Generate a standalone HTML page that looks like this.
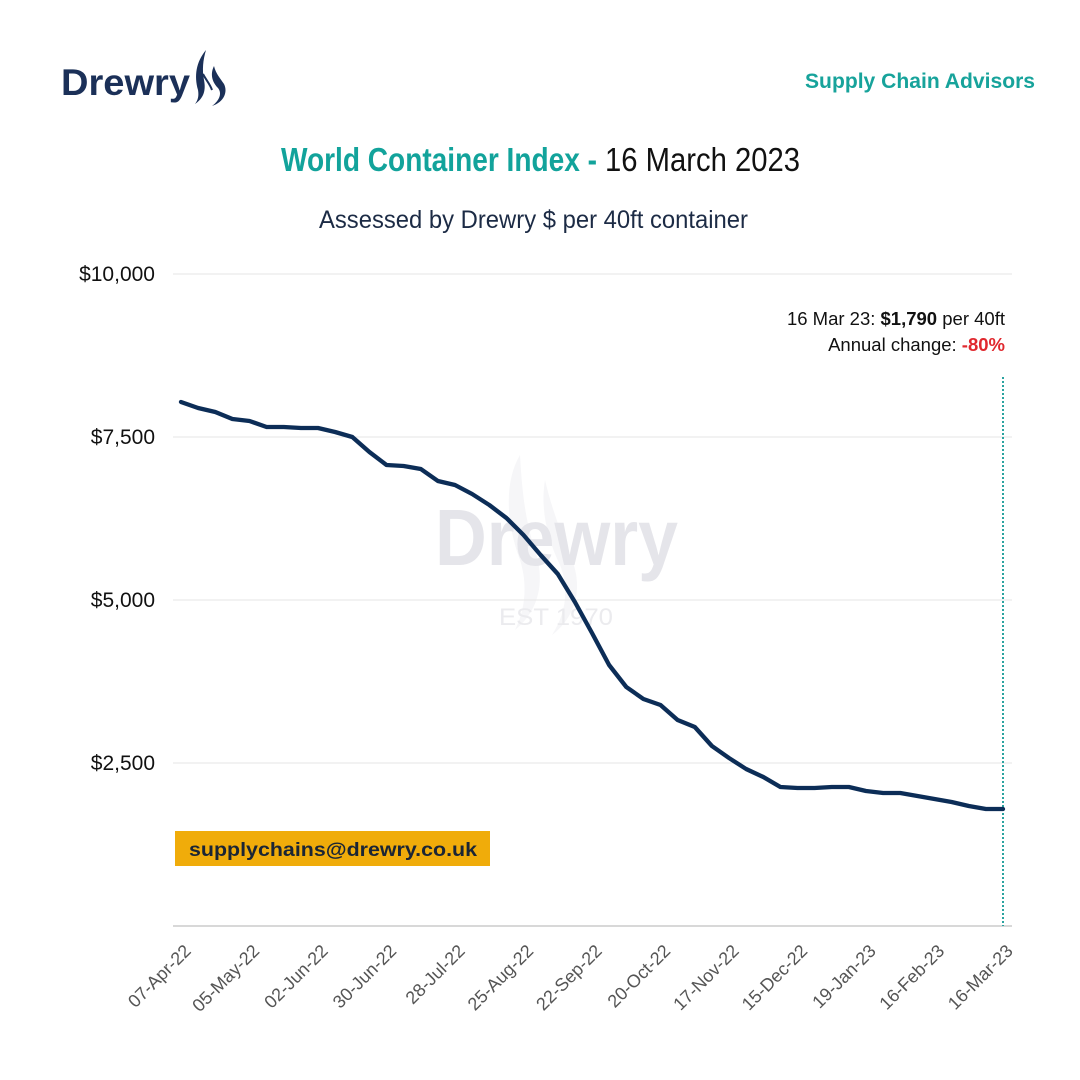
<!DOCTYPE html>
<html>
<head>
<meta charset="utf-8">
<style>
html,body{margin:0;padding:0;background:#fff;}
svg{display:block;}
text{font-family:"Liberation Sans",Arial,sans-serif;}
</style>
</head>
<body>
<svg width="1080" height="1080" viewBox="0 0 1080 1080" xmlns="http://www.w3.org/2000/svg">
<rect width="1080" height="1080" fill="#fff"/>

<!-- Logo -->
<text x="61" y="95" font-size="37" font-weight="bold" fill="#1b3058" textLength="129" lengthAdjust="spacingAndGlyphs">Drewry</text>
<path d="M206,50 C196,62 194,76 198,90 C199,96 198,100 195,104 C204,98 206,90 204,80 C202,70 203,60 206,50 Z" fill="#1b3058"/>
<path d="M214,66 C210,74 212,82 218,88 C222,93 220,100 212,106 C224,102 228,92 224,84 C220,78 216,74 214,66 Z" fill="#1b3058"/>
<path d="M203,74 C206,80 210,84 212,90" stroke="#1b3058" stroke-width="2" fill="none"/>

<text x="1035" y="88" font-size="21" font-weight="bold" fill="#17a39b" text-anchor="end" textLength="230" lengthAdjust="spacingAndGlyphs">Supply Chain Advisors</text>

<!-- Title -->
<text x="281" y="171" font-size="33" font-weight="bold" fill="#12a39b" textLength="316" lengthAdjust="spacingAndGlyphs">World Container Index -</text>
<text x="605" y="171" font-size="33" fill="#111" textLength="195" lengthAdjust="spacingAndGlyphs">16 March 2023</text>
<text x="319" y="228" font-size="25" fill="#1c2b45" textLength="429" lengthAdjust="spacingAndGlyphs">Assessed by Drewry  $ per 40ft container</text>

<!-- Watermark -->
<path d="M520,455 C505,480 505,520 520,560 C528,585 525,610 515,630 C540,610 545,580 535,550 C525,520 522,490 520,455 Z" fill="#f6f6f8"/>
<path d="M545,480 C540,510 548,540 560,565 C570,590 565,615 552,635 C578,615 582,585 572,560 C562,535 552,510 545,480 Z" fill="#f6f6f8"/>
<text x="435" y="565" font-size="80" font-weight="bold" fill="#e5e5ea" textLength="243" lengthAdjust="spacingAndGlyphs">Drewry</text>
<text x="499" y="625" font-size="24" fill="#ebebee" textLength="114" lengthAdjust="spacingAndGlyphs">EST 1970</text>

<!-- Grid -->
<g stroke="#e6e6e6" stroke-width="1">
<line x1="173" y1="274" x2="1012" y2="274"/>
<line x1="173" y1="437" x2="1012" y2="437"/>
<line x1="173" y1="600" x2="1012" y2="600"/>
<line x1="173" y1="763" x2="1012" y2="763"/>
</g>
<line x1="173" y1="926" x2="1012" y2="926" stroke="#cccccc" stroke-width="1.5"/>

<!-- Y labels -->
<g font-size="21" fill="#111" text-anchor="end">
<text x="155" y="281">$10,000</text>
<text x="155" y="444">$7,500</text>
<text x="155" y="607">$5,000</text>
<text x="155" y="770">$2,500</text>
</g>

<!-- Annotation -->
<text x="1005" y="325" font-size="18.5" fill="#111" text-anchor="end">16 Mar 23: <tspan font-weight="bold">$1,790</tspan> per 40ft</text>
<text x="1005" y="351" font-size="18.5" fill="#111" text-anchor="end">Annual change: <tspan font-weight="bold" fill="#e0282e">-80%</tspan></text>

<!-- Vertical dotted line -->
<line x1="1003" y1="377" x2="1003" y2="926" stroke="#2aa3a0" stroke-width="2" stroke-dasharray="2,2"/>

<!-- Series -->
<polyline fill="none" stroke="#0c2d57" stroke-width="4.3" stroke-linejoin="round" stroke-linecap="round"
points="181,402 198.1,408 215.3,412 232.4,419 249.5,421 266.6,427 283.8,427 300.9,428 318,428 335.1,432 352.3,437 369.4,452 386.5,465 403.6,466 420.8,469 437.9,481 455,485 472.1,494 489.3,505 506.4,518 523.5,535 540.6,555 557.8,574 574.9,602 592,633 609.1,665 626.3,687 643.4,699 660.5,705 677.6,720 694.8,727 711.9,746 729,758 746.1,769 763.3,777 780.4,787 797.5,788 814.6,788 831.8,787 848.9,787 866,791 883.1,793 900.3,793 917.4,796 934.5,799 951.6,802 968.8,806 985.9,809 1003,809"/>

<!-- Email box -->
<rect x="175" y="831" width="315" height="35" fill="#f0ac0a"/>
<text x="189" y="856" font-size="19" font-weight="bold" fill="#1a2535" textLength="288" lengthAdjust="spacingAndGlyphs">supplychains@drewry.co.uk</text>

<!-- X labels -->
<g font-size="18" fill="#555" text-anchor="end">
<text x="192" y="952" transform="rotate(-45 192 952)">07-Apr-22</text>
<text x="260.5" y="952" transform="rotate(-45 260.5 952)">05-May-22</text>
<text x="329" y="952" transform="rotate(-45 329 952)">02-Jun-22</text>
<text x="397.5" y="952" transform="rotate(-45 397.5 952)">30-Jun-22</text>
<text x="466" y="952" transform="rotate(-45 466 952)">28-Jul-22</text>
<text x="534.5" y="952" transform="rotate(-45 534.5 952)">25-Aug-22</text>
<text x="603" y="952" transform="rotate(-45 603 952)">22-Sep-22</text>
<text x="671.5" y="952" transform="rotate(-45 671.5 952)">20-Oct-22</text>
<text x="740" y="952" transform="rotate(-45 740 952)">17-Nov-22</text>
<text x="808.5" y="952" transform="rotate(-45 808.5 952)">15-Dec-22</text>
<text x="877" y="952" transform="rotate(-45 877 952)">19-Jan-23</text>
<text x="945.5" y="952" transform="rotate(-45 945.5 952)">16-Feb-23</text>
<text x="1014" y="952" transform="rotate(-45 1014 952)">16-Mar-23</text>
</g>
</svg>
</body>
</html>
